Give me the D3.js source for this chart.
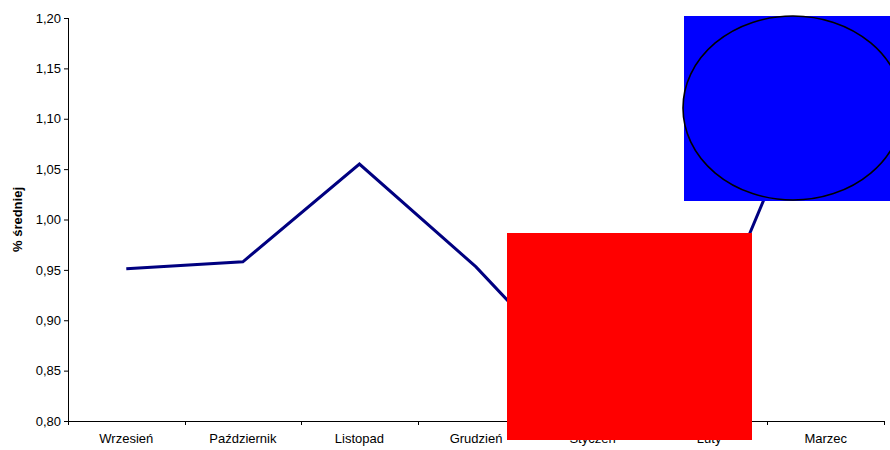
<!DOCTYPE html>
<html>
<head>
<meta charset="utf-8">
<script src="https://cdn.jsdelivr.net/npm/d3@7/dist/d3.min.js"></script>
<style>
  html, body { margin: 0; padding: 0; background: #fff; }
  svg { display: block; font-family: "Liberation Sans", Arial, sans-serif; }
</style>
</head>
<body>
<svg id="chart" width="890" height="450"></svg>
<script>
// Monthly index as a share of the average
const months = ["Wrzesień", "Październik", "Listopad", "Grudzień", "Styczeń", "Luty", "Marzec"];
const values = [0.951, 0.958, 1.055, 0.953, 0.830, 0.890, 1.166];
const yTicks = [0.80, 0.85, 0.90, 0.95, 1.00, 1.05, 1.10, 1.15, 1.20];
const yTitle = "% średniej";

const svg = d3.select("#chart");
const plot = { left: 68, right: 884, top: 18, bottom: 421 };

const x = d3.scaleBand().domain(months).range([plot.left, plot.right]).padding(0);
const y = d3.scaleLinear().domain([0.80, 1.20]).range([plot.bottom, plot.top]);
const fmt = v => v.toFixed(2).replace(".", ",");

// Y axis
const yAxis = svg.append("g")
  .attr("transform", `translate(${plot.left},0)`)
  .call(d3.axisLeft(y).tickValues(yTicks).tickFormat(fmt).tickSize(4).tickPadding(3));
yAxis.select(".domain").attr("stroke", "#000").attr("d", `M0.5,${plot.top}V${plot.bottom}`);
yAxis.selectAll(".tick line").attr("stroke", "#000");
yAxis.selectAll(".tick text").attr("font-size", 13).attr("fill", "#000")
  .attr("font-family", "Liberation Sans, Arial, sans-serif");

// X axis: labels centred in each band, tick marks on band boundaries
const xAxis = svg.append("g")
  .attr("transform", `translate(0,${plot.bottom})`)
  .call(d3.axisBottom(x).tickSize(0).tickPadding(13));
xAxis.select(".domain").attr("stroke", "#000").attr("d", `M${plot.left},0.5H${plot.right}`);
xAxis.selectAll(".tick text").attr("font-size", 13).attr("fill", "#000")
  .attr("font-family", "Liberation Sans, Arial, sans-serif");
const bounds = months.map(m => x(m)).concat([x(months[months.length - 1]) + x.bandwidth()]);
xAxis.selectAll("line.bound").data(bounds).enter().append("line")
  .attr("class", "bound")
  .attr("x1", d => Math.round(d) + 0.5).attr("x2", d => Math.round(d) + 0.5)
  .attr("y1", 0).attr("y2", 4).attr("stroke", "#000");

// Y axis title
svg.append("text")
  .attr("transform", `translate(22,${(plot.top + plot.bottom) / 2}) rotate(-90)`)
  .attr("text-anchor", "middle")
  .attr("font-size", 13).attr("font-weight", "bold")
  .text(yTitle);

// Series line
const line = d3.line()
  .x((d, i) => x(months[i]) + x.bandwidth() / 2)
  .y(d => y(d));
svg.append("path")
  .datum(values)
  .attr("d", line)
  .attr("fill", "none")
  .attr("stroke", "#000080")
  .attr("stroke-width", 3)
  .attr("stroke-linejoin", "miter");

// Overlay shapes
const redBox = { x: 507, y: 233, w: 245, h: 207 };
const blueBox = { x: 684, y: 16, w: 206, h: 185 };
const blueOval = { cx: 793, cy: 108, rx: 110, ry: 92 };

svg.append("rect")
  .attr("x", redBox.x).attr("y", redBox.y)
  .attr("width", redBox.w).attr("height", redBox.h)
  .attr("fill", "#ff0000");

svg.append("rect")
  .attr("x", blueBox.x).attr("y", blueBox.y)
  .attr("width", blueBox.w).attr("height", blueBox.h)
  .attr("fill", "#0000ff");
svg.append("ellipse")
  .attr("cx", blueOval.cx).attr("cy", blueOval.cy)
  .attr("rx", blueOval.rx).attr("ry", blueOval.ry)
  .attr("fill", "#0000ff")
  .attr("stroke", "#000").attr("stroke-width", 1.6);
</script>
</body>
</html>
